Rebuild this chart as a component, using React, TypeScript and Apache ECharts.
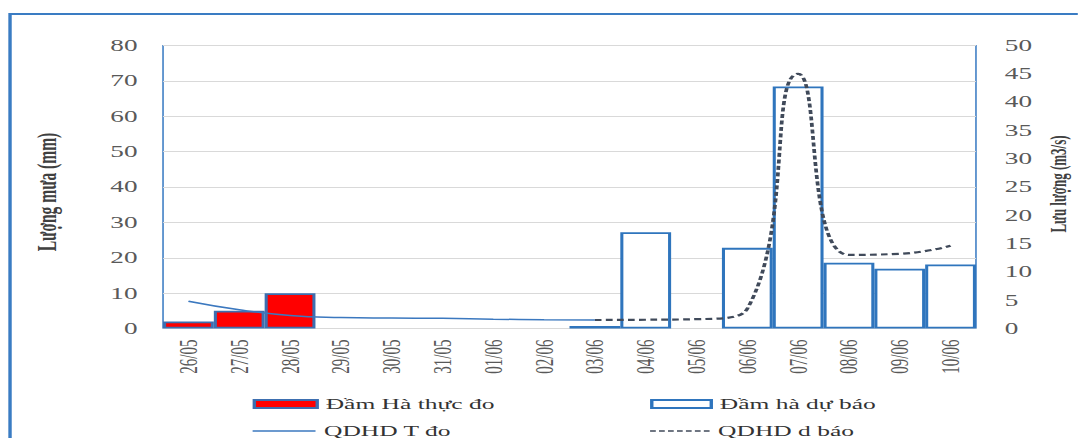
import React, { useEffect, useRef } from "react";
import * as echarts from "echarts";

const categories = [
  "26/05", "27/05", "28/05", "29/05", "30/05", "31/05", "01/06", "02/06",
  "03/06", "04/06", "05/06", "06/06", "07/06", "08/06", "09/06", "10/06",
];
const rainObserved = [2, 5, 10, null, null, null, null, null, null, null, null, null, null, null, null, null];
const rainForecast = [null, null, null, null, null, null, null, null, 0.7, 27.2, null, 22.8, 68.4, 18.6, 16.9, 18.1];
const flowObserved = [4.8, 3.3, 2.3, 1.95, 1.85, 1.8, 1.65, 1.55, 1.5, null, null, null, null, null, null, null];
const flowForecast = [null, null, null, null, null, null, null, null, 1.5, 1.55, 1.65, 3.5, 45, 13, 13.2, 14.6];
const leftTicks = { min: 0, max: 80, interval: 10 };
const rightTicks = { min: 0, max: 50, interval: 5 };

const SX = 1.7;
const W = 634;
const H = 438;
const FONT = "'Liberation Serif', 'Times New Roman', serif";

const solidIcon = "path://M0,0h36v1.4h-36z";
const dashedIcon =
  "path://M0,0h3.2v1.6h-3.2z M5,0h3.2v1.6h-3.2z M10,0h3.2v1.6h-3.2z M15,0h3.2v1.6h-3.2z M20,0h3.2v1.6h-3.2z M25,0h3.2v1.6h-3.2z M30,0h3.2v1.6h-3.2z";

export default function App() {
  const ref = useRef<HTMLDivElement>(null);
  useEffect(() => {
    if (!ref.current) return;
    const chart = echarts.init(ref.current, undefined, { renderer: "svg" });
    const blue = "#2f75bd";
    const lineBlue = "#3b78bf";
    const dashColor = "#404a5a";
    const legendText = { fontFamily: FONT, fontSize: 15, color: "#333", lineHeight: 16 };
    chart.setOption({
      animation: false,
      backgroundColor: "#ffffff",
      grid: {
        left: 95.9,
        right: W - 574.1,
        top: 45.5,
        bottom: H - 328.5,
        show: true,
        borderColor: "#4d88c9",
        borderWidth: 1,
        backgroundColor: "transparent",
      },
      graphic: [
        {
          type: "rect",
          shape: { x: 5.9, y: 14, width: 800, height: 600 },
          style: { fill: "none", stroke: "#3a7cc3", lineWidth: 2 },
          silent: true,
        },
        {
          type: "text",
          x: 28.2,
          y: 192,
          rotation: Math.PI / 2,
          style: {
            text: "Lượng mưa (mm)",
            font: `bold 15.5px ${FONT}`,
            fill: "#404040",
            textAlign: "center",
            textVerticalAlign: "middle",
          },
        },
        {
          type: "text",
          x: 622.5,
          y: 184,
          rotation: Math.PI / 2,
          style: {
            text: "Lưu lượng (m3/s)",
            font: `bold 13px ${FONT}`,
            fill: "#404040",
            textAlign: "center",
            textVerticalAlign: "middle",
          },
        },
      ],
      legend: [
        {
          left: 148.6,
          top: 396,
          padding: 0,
          itemWidth: 37,
          itemHeight: 8,
          textStyle: legendText,
          data: [{ name: "Đầm Hà thực đo", icon: "rect" }],
        },
        {
          left: 382.4,
          top: 396,
          padding: 0,
          itemWidth: 35,
          itemHeight: 8,
          textStyle: legendText,
          data: [{ name: "Đầm hà dự báo", icon: "rect" }],
        },
        {
          left: 148.6,
          top: 423,
          padding: 0,
          itemWidth: 37,
          itemHeight: 1.4,
          symbolKeepAspect: false,
          textStyle: legendText,
          data: [
            {
              name: "QDHD T đo",
              icon: solidIcon,
              itemStyle: { color: lineBlue, borderWidth: 0 },
            },
          ],
        },
        {
          left: 382.4,
          top: 423,
          padding: 0,
          itemWidth: 35,
          itemHeight: 1.6,
          symbolKeepAspect: false,
          textStyle: legendText,
          data: [
            {
              name: "QDHD d báo",
              icon: dashedIcon,
              itemStyle: { color: dashColor, borderWidth: 0 },
            },
          ],
        },
      ],
      xAxis: {
        type: "category",
        data: categories,
        boundaryGap: true,
        axisTick: { show: false },
        axisLine: { show: true, lineStyle: { color: "#d9d9d9", width: 1 } },
        axisLabel: {
          rotate: 90,
          margin: 11,
          interval: 0,
          fontFamily: FONT,
          fontSize: 15,
          color: "#595959",
        },
        splitLine: { show: false },
      },
      yAxis: [
        {
          type: "value",
          min: leftTicks.min,
          max: leftTicks.max,
          interval: leftTicks.interval,
          axisLine: { show: false },
          axisTick: { show: false },
          axisLabel: { margin: 15, fontFamily: FONT, fontSize: 16, color: "#595959" },
          splitLine: { show: true, lineStyle: { color: "#d9d9d9", width: 1 } },
        },
        {
          type: "value",
          position: "right",
          min: rightTicks.min,
          max: rightTicks.max,
          interval: rightTicks.interval,
          axisLine: { show: false },
          axisTick: { show: false },
          axisLabel: { margin: 17, fontFamily: FONT, fontSize: 16, color: "#595959" },
          splitLine: { show: false },
        },
      ],
      series: [
        {
          name: "Đầm Hà thực đo",
          type: "bar",
          yAxisIndex: 0,
          data: rainObserved,
          barCategoryGap: 0,
          barGap: "-100%",
          itemStyle: { color: "#ff0000", borderColor: "#3d6fb0", borderWidth: 1.8 },
          z: 2,
        },
        {
          name: "Đầm hà dự báo",
          type: "bar",
          yAxisIndex: 0,
          data: rainForecast,
          barCategoryGap: 0,
          barGap: "-100%",
          itemStyle: { color: "#ffffff", borderColor: blue, borderWidth: 1.8 },
          z: 2,
        },
        {
          name: "QDHD T đo",
          type: "line",
          yAxisIndex: 1,
          data: flowObserved,
          smooth: 0.5,
          symbol: "none",
          itemStyle: { color: lineBlue },
          lineStyle: { color: lineBlue, width: 1.5 },
          z: 3,
        },
        {
          name: "QDHD d báo",
          type: "line",
          yAxisIndex: 1,
          data: flowForecast,
          smooth: 0.5,
          symbol: "none",
          itemStyle: { color: dashColor },
          lineStyle: { color: dashColor, width: 2.2, type: [4, 2.5] },
          z: 4,
        },
      ],
    });
    return () => chart.dispose();
  }, []);
  return (
    <div
      ref={ref}
      style={{
        position: "fixed",
        left: 0,
        top: 0,
        width: W,
        height: H,
        transform: `scaleX(${SX})`,
        transformOrigin: "0 0",
      }}
    />
  );
}
